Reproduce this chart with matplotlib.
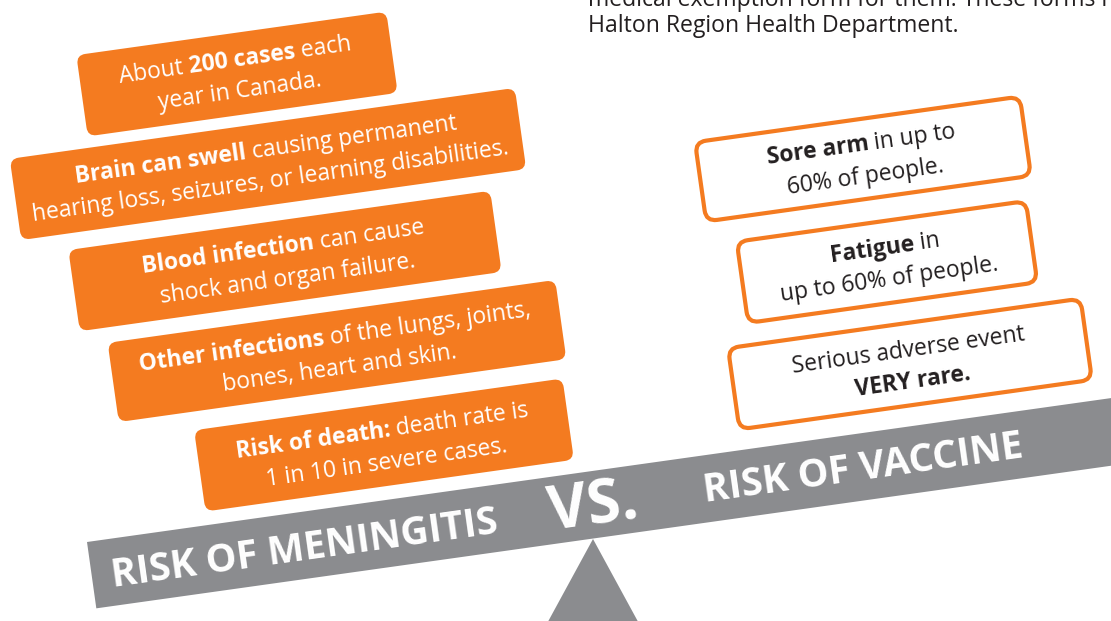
import numpy as np
import matplotlib.pyplot as plt
from matplotlib.patches import FancyBboxPatch, Rectangle, Polygon
from matplotlib.transforms import Affine2D

plt.rcParams['font.family'] = ['Open Sans', 'DejaVu Sans']

# ---- content ----
intro_lines = ["medical exemption form for them. These forms must be returned to the",
               "Halton Region Health Department."]

meningitis_risks = [
    [[("About ", "normal"), ("200 cases", "bold"), (" each", "normal")],
     [("year in Canada.", "normal")]],
    [[("Brain can swell", "bold"), (" causing permanent", "normal")],
     [("hearing loss, seizures, or learning disabilities.", "normal")]],
    [[("Blood infection", "bold"), (" can cause", "normal")],
     [("shock and organ failure.", "normal")]],
    [[("Other infections", "bold"), (" of the lungs, joints,", "normal")],
     [("bones, heart and skin.", "normal")]],
    [[("Risk of death:", "bold"), (" death rate is", "normal")],
     [("1 in 10 in severe cases.", "normal")]],
]
vaccine_risks = [
    [[("Sore arm", "bold"), (" in up to", "normal")],
     [("60% of people.", "normal")]],
    [[("Fatigue", "bold"), (" in", "normal")],
     [("up to 60% of people.", "normal")]],
    [[("Serious adverse event", "normal")],
     [("VERY rare.", "bold")]],
]
left_title = "RISK OF MENINGITIS"
right_title = "RISK OF VACCINE"
vs_label = "VS."

# ---- layout (pixels, y down) ----
W, H = 1111, 621
TILT = 8.0
ORANGE = '#F47B20'
GRAY = '#8B8C8F'
INK = '#231F20'

# centre x, centre y, width, height
left_boxes = [(237, 74, 313, 82), (268, 164, 510, 82), (285, 261, 426, 82),
              (337, 351, 452, 80), (384, 445, 372, 82)]
right_boxes = [(863, 159, 328, 80), (887, 262, 292, 82), (910, 364, 356, 82)]
LINE_GAP = 32     # px between baselines

fig = plt.figure(figsize=(W / 100, H / 100), dpi=100)
ax = fig.add_axes([0, 0, 1, 1])
ax.set_xlim(0, W)
ax.set_ylim(H, 0)
ax.axis('off')
renderer = fig.canvas.get_renderer()

a = np.deg2rad(TILT)
u = np.array([np.cos(a), -np.sin(a)])   # along the baseline
d = np.array([np.sin(a), np.cos(a)])    # towards the next line


def text_width(s, size, weight):
    t = ax.text(0, 0, "x" + s + "x", fontsize=size, fontweight=weight)
    w = t.get_window_extent(renderer).width
    t.set_text("xx")
    w -= t.get_window_extent(renderer).width
    t.remove()
    return w


def draw_line(cx, cy, segs, size, color):
    # one rotated line made of bold / regular pieces, centred on (cx, cy)
    ws = [text_width(s, size, wt) for s, wt in segs]
    p = np.array([cx, cy]) - u * sum(ws) / 2
    for (s, wt), w in zip(segs, ws):
        ax.text(p[0], p[1], s, fontsize=size, fontweight=wt, color=color,
                rotation=TILT, rotation_mode='anchor', ha='left', va='baseline')
        p = p + u * w


def draw_box(cx, cy, w, h, face, edge, lw, r):
    p = FancyBboxPatch((cx - w / 2, cy - h / 2), w, h,
                       boxstyle=f"round,pad=0,rounding_size={r}",
                       fc=face, ec=edge, lw=lw, joinstyle='round')
    p.set_transform(Affine2D().rotate_deg_around(cx, cy, -TILT) + ax.transData)
    ax.add_patch(p)


def fit(s, target, weight='bold'):
    return 20 * target / text_width(s, 20, weight)


BODY = fit(meningitis_risks[1][1][0][0], 478, 'normal')
CAP = 0.714 * BODY / 0.72


def draw_block(box, lines, color):
    cx, cy = box[0], box[1]
    n = len(lines)
    top = -(CAP + (n - 1) * LINE_GAP) / 2 + CAP
    for i, segs in enumerate(lines):
        c = np.array([cx, cy]) + d * (top + i * LINE_GAP)
        draw_line(c[0], c[1], segs, BODY, color)


# intro paragraph (cut at the top)
intro_size = fit(intro_lines[1], 369, 'normal')
ax.text(588, 6, intro_lines[0], fontsize=intro_size, color=INK, va='baseline')
ax.text(588, 32, intro_lines[1], fontsize=intro_size, color=INK, va='baseline')

# fulcrum and beam
ax.add_patch(Polygon([(593, 539), (538, 640), (648, 640)], closed=True, fc=GRAY, ec='none'))
beam = Rectangle((87, 542), 1300, 67, fc=GRAY, ec='none')
beam.set_transform(Affine2D().rotate_deg_around(87, 542, -TILT) + ax.transData)
ax.add_patch(beam)

title_size = fit(left_title, 390)
draw_line(306, 560, [(left_title, 'bold')], title_size, 'white')
draw_line(865, 480, [(right_title, 'bold')], title_size, 'white')
draw_line(596, 524, [(vs_label, 'bold')], fit(vs_label, 90), 'white')

# boxes
for box, lines in zip(left_boxes, meningitis_risks):
    draw_box(*box, face=ORANGE, edge='none', lw=0, r=9)
    draw_block(box, lines, 'white')

for box, lines in zip(right_boxes, vaccine_risks):
    draw_box(*box, face='white', edge=ORANGE, lw=3.0, r=11)
    draw_block(box, lines, INK)

fig.savefig('out.png', dpi=100, facecolor='white')
